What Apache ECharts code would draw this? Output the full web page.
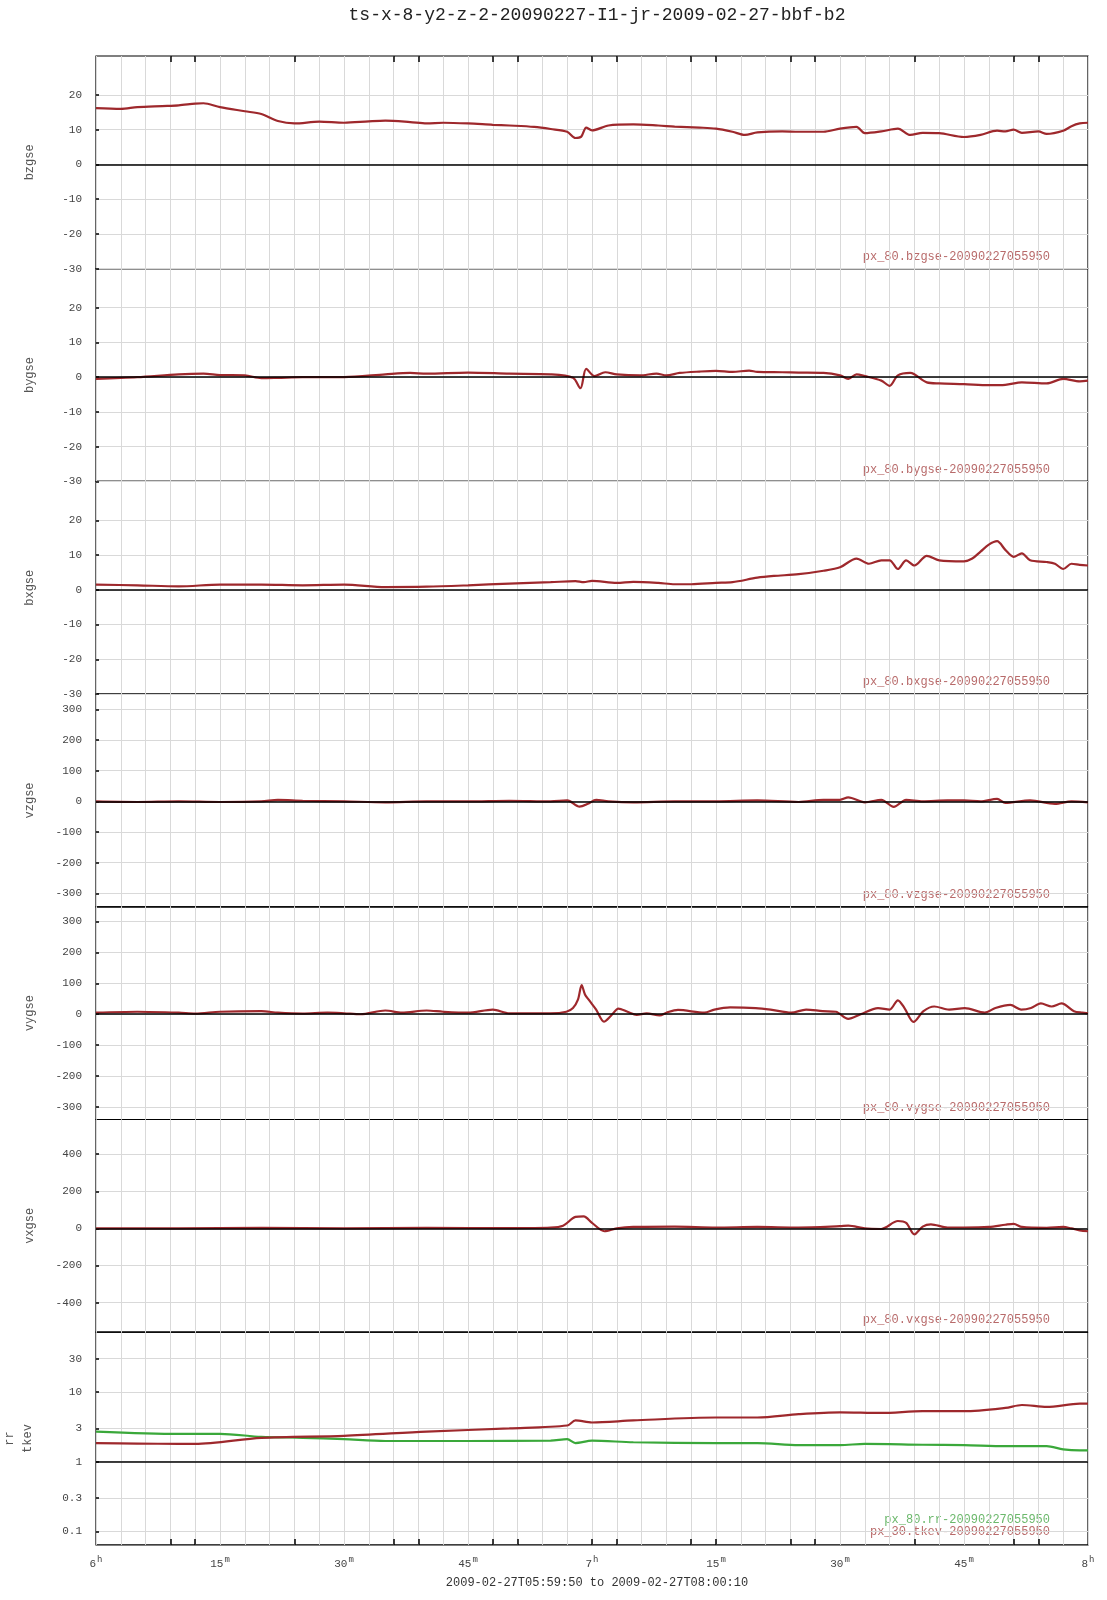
<!DOCTYPE html>
<html><head><meta charset="utf-8">
<script src="https://cdn.jsdelivr.net/npm/echarts@6/dist/echarts.min.js"></script>
<style>html,body{margin:0;padding:0;background:#fff}#c{width:1107px;height:1600px}</style>
</head><body><div id="c"></div>
<script>
// time in minutes after 06:00
const bzT=[0,3,5,8,10,12,13,15,18,20,22,24,27,30,33,35,38,40,42,45,48,50,53,55,57,58,58.7,59.3,60,62,65,68,70,73,75,77,78.5,80,83,85,88,90,92,93,95,97,98.5,100,102,105,107,109,110,111,112,114,115,117,118,119,120];
const bzV=[16.2,16.0,16.5,16.8,17.0,17.5,17.6,16.5,15.3,14.5,12.5,11.8,12.3,12.0,12.4,12.6,12.2,11.8,12.0,11.8,11.4,11.2,10.8,10.2,9.4,7.6,8.0,10.6,9.8,11.2,11.5,11.2,10.9,10.6,10.3,9.4,8.5,9.2,9.5,9.4,9.4,10.3,10.8,9.0,9.5,10.3,8.5,9.1,9.0,7.9,8.5,9.7,9.5,10.0,9.1,9.5,8.8,9.7,11.0,11.8,12.0];
const byT=[0,5,10,13,15,18,20,22,25,30,35,38,40,45,50,55,57.7,58.6,59.3,60.3,61.6,63,65.8,67.8,69,70.6,73,75,77,79,80,83,85,88,90,91,92,93,95,96,97,98.5,100.5,102,105,108,110,112,115,117,119,120];
const byV=[-0.5,0,0.8,1.0,0.6,0.5,-0.3,-0.2,0,0,0.8,1.2,1.0,1.3,1.0,0.8,-0.2,-3.2,2.4,0.3,1.4,0.8,0.5,1.0,0.5,1.2,1.6,1.8,1.5,1.9,1.5,1.4,1.3,1.2,0.5,-0.5,0.8,0.3,-1.0,-2.5,0.5,1.2,-1.5,-1.8,-2.0,-2.3,-2.2,-1.5,-1.8,-0.5,-1.2,-1.0];
const bxT=[0,5,10,15,20,25,30,35,40,45,50,55,58,59,60,63,65,68,70,72,75,77,80,82,85,88,90,92,93.5,95,96,97,98,99,100.5,102,105,106,107,108,109,110,111,112,113,115,116,117,118,119,120];
const bxV=[1.5,1.3,1.0,1.5,1.5,1.3,1.5,0.8,0.9,1.3,1.8,2.2,2.5,2.2,2.6,2.0,2.3,2.0,1.6,1.6,2.0,2.2,3.5,4.0,4.5,5.5,6.5,9.0,7.5,8.5,8.5,6.0,8.5,7.0,9.8,8.5,8.2,9.0,11.0,13.0,14.0,11.5,9.5,10.5,8.5,8.0,7.5,6.0,7.5,7.2,7.0];
const vzT=[0,5,10,15,20,22,25,30,35,40,45,50,55,57,58.5,59.5,60.5,62,65,70,75,80,85,88,90,91,93,95,96.5,98,100,103,105,107,109,110,113,116,118,120];
const vzV=[0,-2,0,-2,0,5,2,0,-3,0,0,2,0,3,-17,-8,5,0,-3,0,0,3,-2,5,5,13,-3,5,-18,5,0,3,3,0,8,-5,3,-8,0,-3];
const vyT=[0,5,10,12,15,20,22,25,28,30,32,35,37,40,42,45,48,50,55,56.9,57.7,58.3,58.75,59.15,59.6,60.5,61.45,62.3,63.2,64.3,65.4,66.6,68.2,69,70.4,73.6,74.8,76.7,79.8,81.6,84.1,85.9,87.9,89.5,91,92.5,94.6,96,97,97.8,98.9,100.1,101.4,103.2,105.1,107.5,108.8,110.6,111.9,113.1,114.3,115.6,116.8,118.3,119.3,120];
const vyV=[5,8,5,2,8,10,5,2,5,3,0,12,5,12,8,5,15,3,3,8,20,47,94,64,47,15,-24,-5,18,8,-2,3,-4,5,14,5,15,22,20,15,5,15,10,8,-15,0,20,15,45,20,-25,10,25,15,20,5,20,30,15,20,35,25,35,10,5,3];
const vxT=[0,10,20,30,40,50,55,56.5,58,59,60,61.5,63,65,70,75,80,85,90,91,93,95,97,98,99,100,101,103,105,108,110,111,112,115,117,118,119,120];
const vxV=[0,0,3,0,3,2,5,15,62,65,30,-15,0,8,10,5,8,5,12,15,0,-3,40,30,-32,10,22,5,5,8,20,25,8,3,8,0,-10,-15];
const rrT=[0,10,15,20,25,30,35,45,55,57,58,60,65,75,80,85,90,93,100,105,110,115,117,119,120];
const rrV=[2.7,2.5,2.5,2.27,2.2,2.1,1.98,1.98,2.0,2.1,1.85,2.0,1.9,1.85,1.85,1.73,1.73,1.8,1.75,1.73,1.67,1.67,1.5,1.45,1.45];
const tkT=[0,5,10,12,20,30,40,50,57,58,60,65,75,80,85,90,95,100,105,110,112,115,119,120];
const tkV=[1.84,1.82,1.8,1.8,2.2,2.35,2.7,3.0,3.3,3.9,3.65,3.9,4.3,4.3,4.8,5.1,5.0,5.3,5.3,5.9,6.5,6.1,6.8,6.8];

const names=['bzgse','bygse','bxgse','vzgse','vygse','vxgse','rr\ntkev'];
const legends=['px_80.bzgse-20090227055950','px_80.bygse-20090227055950','px_80.bxgse-20090227055950','px_80.vzgse-20090227055950','px_80.vygse-20090227055950','px_80.vxgse-20090227055950'];
const ranges=[[-30,31.2],[-30,31.2],[-30,31.2],[-344,350],[-340,347],[-559,587],[0.064,72]];
const yLabels=[[-30,-20,-10,0,10,20],[-30,-20,-10,0,10,20],[-30,-20,-10,0,10,20],[-300,-200,-100,0,100,200,300],[-300,-200,-100,0,100,200,300],[-400,-200,0,200,400],[0.1,0.3,1,3,10,30]];
const xLabelVals=[0,15,30,45,60,75,90,105,120];
const xLabelText=['6|h','15|m','30|m','45|m','7|h','15|m','30|m','45|m','8|h'];
const xTickVals=[9,12,24,36,39,48,51,60,63,72,75,84,87,99,111,114];

const FONT='"Liberation Mono","DejaVu Sans Mono",monospace';
const RED='#9e282c', GREEN='#3aa83a';
const top0=56, ph=212.7, L=96, R=19;
const grids=[],xAxes=[],yAxes=[],series=[],graphics=[];
for(let i=0;i<7;i++){
  grids.push({left:L,right:R,top:top0+i*ph,height:ph,show:true,borderColor:'#000',borderWidth:1.2,backgroundColor:'transparent',outerBoundsMode:'none',containLabel:false});
  xAxes.push({type:'value',gridIndex:i,min:0,max:120,interval:3,
    axisLine:{show:false},axisTick:{show:false},
    axisLabel:i===6?{show:true,customValues:xLabelVals,fontFamily:FONT,color:'#444',fontSize:11,margin:10,
      formatter:(v)=>{const k=xLabelVals.indexOf(v);if(k<0)return '';const p=xLabelText[k].split('|');return '{a|'+p[0]+'}{s|'+p[1]+'}';},
      rich:{a:{fontFamily:FONT,fontSize:11,color:'#444'},s:{fontFamily:FONT,fontSize:9,color:'#444',padding:[0,0,9,1]}}}:{show:false},
    splitLine:{show:true,lineStyle:{color:'#d9d9d9',width:1}}});
  const isLog=i===6;
  yAxes.push({type:isLog?'log':'value',gridIndex:i,min:ranges[i][0],max:ranges[i][1],
    name:names[i],nameLocation:'middle',nameGap:isLog?59:57,nameRotate:90,
    nameTextStyle:{fontFamily:FONT,fontSize:12,color:'#555',lineHeight:18},
    axisLine:{show:false},
    axisTick:{show:true,inside:true,length:3,customValues:yLabels[i],lineStyle:{color:'#000',width:1.5}},
    axisLabel:{customValues:yLabels[i],fontFamily:FONT,fontSize:11,color:'#444',margin:14,
      formatter:(v)=>String(v)},
    splitLine:{show:true,lineStyle:{color:'#d9d9d9',width:1}}});
}
xAxes.push({type:'value',gridIndex:6,position:'bottom',min:0,max:120,axisLine:{show:false},
  axisTick:{show:true,inside:true,length:6,customValues:xTickVals,lineStyle:{color:'#000',width:1.5}},
  axisLabel:{show:false},splitLine:{show:false}});
xAxes.push({type:'value',gridIndex:0,position:'top',min:0,max:120,axisLine:{show:false},
  axisTick:{show:true,inside:true,length:6,customValues:xTickVals,lineStyle:{color:'#000',width:1.5}},
  axisLabel:{show:false},splitLine:{show:false}});

function zip(t,v){return t.map((x,k)=>[x,v[k]]);}
const sets=[[bzT,bzV],[byT,byV],[bxT,bxV],[vzT,vzV],[vyT,vyV],[vxT,vxV]];
const zeroLine={silent:true,symbol:'none',label:{show:false},lineStyle:{color:'#000',width:1.5,type:'solid'},data:[{yAxis:0}]};
sets.forEach((s,i)=>{
  series.push({type:'line',xAxisIndex:i,yAxisIndex:i,data:zip(s[0],s[1]),showSymbol:false,smooth:0.3,
    lineStyle:{color:RED,width:2.2},itemStyle:{color:RED},z:3,
    markLine:Object.assign({},zeroLine)});
});
series.push({type:'line',xAxisIndex:6,yAxisIndex:6,data:zip(rrT,rrV),showSymbol:false,smooth:0.3,
  lineStyle:{color:GREEN,width:2.2},itemStyle:{color:GREEN},z:3,
  markLine:{silent:true,symbol:'none',label:{show:false},lineStyle:{color:'#000',width:1.5,type:'solid'},data:[{yAxis:1}]}});
series.push({type:'line',xAxisIndex:6,yAxisIndex:6,data:zip(tkT,tkV),showSymbol:false,smooth:0.3,
  lineStyle:{color:RED,width:2.2},itemStyle:{color:RED},z:3});

legends.forEach((t,i)=>{
  graphics.push({type:'text',right:57,top:top0+(i+1)*ph-18,style:{text:t,font:'12px '+FONT,fill:'#b86a6a'}});
});
graphics.push({type:'text',right:57,top:1514,style:{text:'px_80.rr-20090227055950',font:'12px '+FONT,fill:'#6cb86c'}});
graphics.push({type:'text',right:57,top:1526,style:{text:'px_30.tkev-20090227055950',font:'12px '+FONT,fill:'#b86a6a'}});

const chart=echarts.init(document.getElementById('c'),null,{renderer:'canvas'});
chart.setOption({
  animation:false,
  title:[{text:'ts-x-8-y2-z-2-20090227-I1-jr-2009-02-27-bbf-b2',left:592,textAlign:'center',top:1,
    textStyle:{fontFamily:FONT,fontSize:18,fontWeight:'normal',color:'#222'}},
    {text:'2009-02-27T05:59:50 to 2009-02-27T08:00:10',left:592,textAlign:'center',top:1572,
    textStyle:{fontFamily:FONT,fontSize:12,fontWeight:'normal',color:'#333'}}],
  grid:grids,xAxis:xAxes,yAxis:yAxes,series:series,graphic:graphics
});
</script></body></html>
